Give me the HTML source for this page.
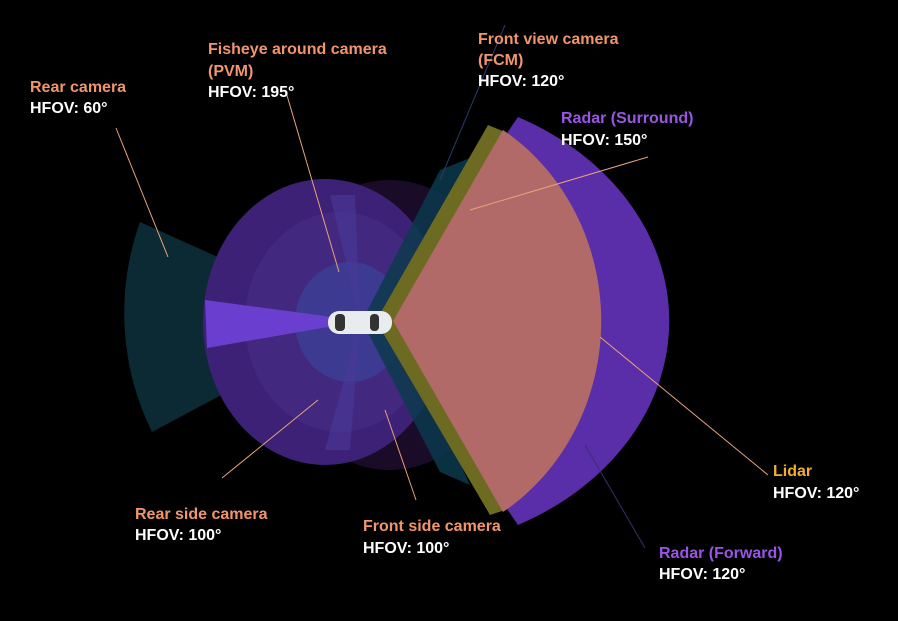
<!DOCTYPE html>
<html><head><meta charset="utf-8"><style>
html,body{margin:0;padding:0;background:#000;}
svg{display:block}
text{font-family:"Liberation Sans",sans-serif;font-weight:bold;font-size:16px;}
.o{fill:#f2956c}.w{fill:#ffffff}.p{fill:#9a55e6}.y{fill:#f5ad2a}
</style></head><body>
<svg width="898" height="621" viewBox="0 0 898 621" xmlns="http://www.w3.org/2000/svg">
<rect width="898" height="621" fill="#000"/>
<path d="M360 321 L140 222 A250 260 0 0 0 152 432 Z" fill="#0b2a33"/>
<ellipse cx="390" cy="325" rx="120" ry="145" fill="#1a0c28"/>
<ellipse cx="325" cy="322" rx="122" ry="143" fill="#3d2176"/>
<ellipse cx="340" cy="322" rx="95" ry="110" fill="#43287f"/>
<ellipse cx="350" cy="322" rx="55" ry="60" fill="#3d3a92"/>
<path d="M360 321 L330 195 L355 195 Z" fill="#4a3a9a" opacity="0.6"/>
<path d="M360 321 L325 450 L350 450 Z" fill="#4a3a9a" opacity="0.6"/>
<path d="M362 321 L440 170 L470 158 L395 321 L470 485 L440 472 Z" fill="#0c3a4c" opacity="0.85"/>
<path d="M362 321 L205 300 L207 348 Z" fill="#6a3fd0"/>
<path d="M378 321 L518 117 A281 230 0 0 1 518 525 Z" fill="#5a2ea8"/>
<path d="M376 321 L488 125 L505 132 L393 321 L505 510 L490 515 Z" fill="#6d6a22"/>
<path d="M393 321 L503 130 A211 226 0 0 1 503 512 Z" fill="#b16a68"/>
<rect x="328" y="311" width="64" height="23" rx="11" fill="#e8ecef"/>
<rect x="335" y="314" width="10" height="17" rx="4" fill="#333"/>
<rect x="370" y="314" width="9" height="17" rx="4" fill="#333"/>
<g stroke="#e8a27a" stroke-width="1" fill="none">
<line x1="116" y1="128" x2="168" y2="257"/>
<line x1="286" y1="92" x2="339" y2="272"/>
<line x1="648" y1="157" x2="470" y2="210"/>
<line x1="318" y1="400" x2="222" y2="478"/>
<line x1="385" y1="410" x2="416" y2="500"/>
<line x1="600" y1="337" x2="768" y2="475"/>
</g>
<line x1="505" y1="25" x2="440" y2="180" stroke="#2a3a6a" stroke-width="1"/>
<line x1="585" y1="445" x2="645" y2="548" stroke="#3a2f6a" stroke-width="1"/>
<text x="30" y="92" class="o">Rear camera</text>
<text x="30" y="113" class="w">HFOV: 60°</text>
<text x="208" y="54" class="o">Fisheye around camera</text>
<text x="208" y="76" class="o">(PVM)</text>
<text x="208" y="97" class="w">HFOV: 195°</text>
<text x="478" y="44" class="o">Front view camera</text>
<text x="478" y="65" class="o">(FCM)</text>
<text x="478" y="86" class="w">HFOV: 120°</text>
<text x="561" y="123" class="p">Radar (Surround)</text>
<text x="561" y="145" class="w">HFOV: 150°</text>
<text x="135" y="519" class="o">Rear side camera</text>
<text x="135" y="540" class="w">HFOV: 100°</text>
<text x="363" y="531" class="o">Front side camera</text>
<text x="363" y="553" class="w">HFOV: 100°</text>
<text x="773" y="476" class="y">Lidar</text>
<text x="773" y="498" class="w">HFOV: 120°</text>
<text x="659" y="558" class="p">Radar (Forward)</text>
<text x="659" y="579" class="w">HFOV: 120°</text>
</svg>
</body></html>
